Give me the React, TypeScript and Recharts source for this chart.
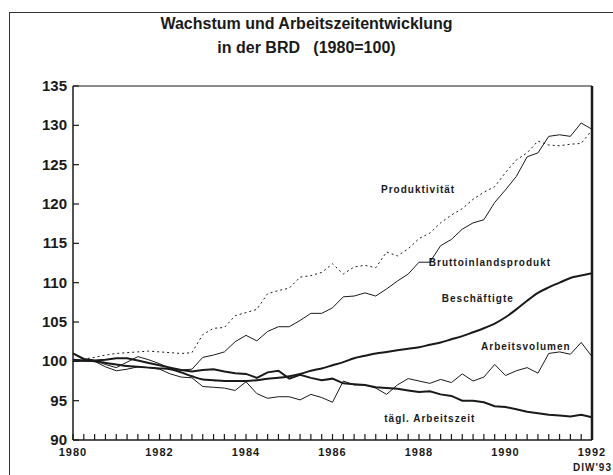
import React from "react";
import { LineChart, Line, XAxis, YAxis, ReferenceLine, ReferenceDot } from "recharts";

// quarterly time axis 1980 Q1 .. 1992 Q1
const quarters = Array.from({ length: 49 }, (_, i) => 1980 + i / 4);
const yearLabels = [1980, 1982, 1984, 1986, 1988, 1990, 1992];
const yTicks = [90, 95, 100, 105, 110, 115, 120, 125, 130, 135];

const produktivitaet = [
  100, 100.3, 100.5, 100.8, 101, 101.1, 101.2, 101.3, 101.2, 101.1, 101.0, 101.1,
  103.4, 104.2, 104.3, 105.8, 106.2, 106.6, 108.6, 109.0, 109.3, 110.7, 110.9, 111.3,
  112.4, 111.1, 112.0, 112.2, 111.9, 113.9, 113.4, 114.3, 115.6, 116.3, 117.6, 118.6,
  119.4, 120.6, 121.5, 122.2, 124.0, 125.6, 126.5, 128.0, 127.5, 127.4, 127.6, 127.7,
  129.4,
];
const bip = [
  101, 100.2, 100.1, 99.6, 99.2, 99.9, 100.6, 100.2, 99.7, 99.1, 98.9, 99.0,
  100.5, 100.8, 101.2, 102.5, 103.3, 102.6, 103.8, 104.4, 104.4, 105.2, 106.1, 106.1,
  106.8, 108.2, 108.3, 108.7, 108.3, 109.2, 110.2, 111.1, 112.6, 112.6, 114.7, 115.5,
  116.8, 117.6, 118.0, 120.2, 121.8, 123.5, 126.0, 126.5, 128.6, 128.8, 128.6, 130.3,
  129.5,
];
const beschaeftigte = [
  100.2, 100.1, 100.0, 99.8, 99.6, 99.4, 99.3, 99.2, 99.1, 99.0, 98.6, 98.1,
  97.7, 97.6, 97.5, 97.5, 97.5, 97.6, 97.8, 97.9, 98.1, 98.4, 98.8, 99.1,
  99.5, 99.9, 100.4, 100.7, 101.0, 101.2, 101.4, 101.6, 101.8, 102.1, 102.4, 102.8,
  103.2, 103.7, 104.2, 104.8, 105.6, 106.6, 107.7, 108.7, 109.4, 110.0, 110.6, 110.9,
  111.2,
];
const arbeitszeit = [
  101, 100.3, 100.1, 100.2, 100.4, 100.4, 100.1, 99.8, 99.5, 99.2, 98.9, 98.7,
  98.9, 99.0, 98.7, 98.5, 98.4, 97.9, 98.6, 98.8, 97.8, 98.3, 97.9, 97.6,
  97.8, 97.2, 97.1, 97.0, 96.7, 96.6, 96.5, 96.3, 96.1, 96.2, 95.8, 95.6,
  95.0, 95.0, 94.8, 94.3, 94.2, 93.9, 93.6, 93.4, 93.2, 93.1, 93.0, 93.2,
  92.9,
];
const arbeitsvolumen = [
  100, 100, 100, 99.3, 98.8, 99.0, 99.3, 99.2, 99.0, 98.4, 98.0, 97.9,
  96.8, 96.7, 96.6, 96.3, 97.4, 95.9, 95.3, 95.5, 95.5, 95.1, 95.8, 95.4,
  94.8, 97.5, 97.0, 97.0, 96.6, 95.8, 97.0, 97.8, 97.5, 97.2, 97.7, 97.3,
  98.4, 97.5, 98.0, 99.6, 98.2, 98.8, 99.2, 98.5, 101.0, 101.2, 100.9, 102.4,
  100.6,
];

const data = quarters.map((t, i) => ({
  t,
  produktivitaet: produktivitaet[i],
  bip: bip[i],
  beschaeftigte: beschaeftigte[i],
  arbeitszeit: arbeitszeit[i],
  arbeitsvolumen: arbeitsvolumen[i],
}));

const FONT = '"Liberation Sans", Arial, Helvetica, sans-serif';
const INK = "#1a1a1a";

// inward quarter ticks, labels every second year
const XTick = (props: any) => {
  const { x, y, payload } = props;
  const v = payload.value;
  return (
    <g>
      <line x1={x} y1={y} x2={x} y2={y - 6} stroke={INK} strokeWidth={1.2} />
      {yearLabels.includes(v) && (
        <text x={x} y={y + 16} textAnchor="middle" fontFamily={FONT} fontWeight="bold" fontSize={11} letterSpacing={1} fill={INK}>
          {v}
        </text>
      )}
    </g>
  );
};

const YTick = (props: any) => {
  const { x, y, payload } = props;
  return (
    <g>
      <line x1={x} y1={y} x2={x + 6} y2={y} stroke={INK} strokeWidth={1.2} />
      <text x={x - 6} y={y + 5} textAnchor="end" fontFamily={FONT} fontWeight="bold" fontSize={15} fill={INK}>
        {payload.value}
      </text>
    </g>
  );
};

const RTick = (props: any) => {
  const { x, y } = props;
  return <line x1={x - 5} y1={y} x2={x} y2={y} stroke={INK} strokeWidth={1.2} />;
};

const seriesLabel = (text: string) => ({
  value: text,
  position: "center" as const,
  fontFamily: FONT,
  fontWeight: "bold",
  fontSize: 10,
  letterSpacing: 1,
  fill: INK,
});

export default function App() {
  return (
    <div style={{ position: "absolute", left: 0, top: 0, width: 613, height: 475, background: "#fff", overflow: "hidden", fontFamily: FONT }}>
      <div style={{ position: "absolute", left: 9, top: 12, width: 620, height: 480, borderLeft: "1.5px solid #333", borderTop: "1.5px solid #333" }} />
      <div style={{ position: "absolute", left: 0, top: 12, width: 613, textAlign: "center", fontWeight: "bold", fontSize: 16, lineHeight: "24px", color: INK }}>
        <div>Wachstum und Arbeitszeitentwicklung</div>
        <div style={{ whiteSpace: "pre" }}>{"in der BRD   (1980=100)"}</div>
      </div>
      <div style={{ position: "absolute", left: 573, top: 462, fontWeight: "bold", fontSize: 10, letterSpacing: 1, color: INK, whiteSpace: "nowrap" }}>
        DIW'93
      </div>
      <div style={{ position: "absolute", left: 0, top: 0 }}>
        <LineChart width={613} height={475} data={data} margin={{ top: 86, right: 20, bottom: 5, left: 0 }}>
          <XAxis
            dataKey="t"
            type="number"
            domain={[1980, 1992]}
            ticks={quarters}
            interval={0}
            tickSize={0}
            tickMargin={0}
            tick={<XTick />}
            axisLine={{ stroke: INK, strokeWidth: 1.5 }}
            height={30}
          />
          <YAxis
            yAxisId="l"
            domain={[90, 135]}
            ticks={yTicks}
            interval={0}
            tickSize={0}
            tickMargin={0}
            tick={<YTick />}
            axisLine={{ stroke: INK, strokeWidth: 1.5 }}
            width={73}
          />
          <YAxis
            yAxisId="r"
            orientation="right"
            domain={[90, 135]}
            ticks={yTicks}
            interval={0}
            tickSize={0}
            tickMargin={0}
            tick={<RTick />}
            axisLine={{ stroke: INK, strokeWidth: 2.5 }}
            width={1}
          />
          <ReferenceLine yAxisId="l" y={135} stroke={INK} strokeWidth={1.2} />
          <Line yAxisId="l" dataKey="produktivitaet" type="linear" stroke={INK} strokeWidth={1} strokeDasharray="2 3" dot={false} isAnimationActive={false} />
          <Line yAxisId="l" dataKey="bip" type="linear" stroke={INK} strokeWidth={1} dot={false} isAnimationActive={false} />
          <Line yAxisId="l" dataKey="arbeitsvolumen" type="linear" stroke={INK} strokeWidth={1} dot={false} isAnimationActive={false} />
          <Line yAxisId="l" dataKey="beschaeftigte" type="monotone" stroke={INK} strokeWidth={2} dot={false} isAnimationActive={false} />
          <Line yAxisId="l" dataKey="arbeitszeit" type="linear" stroke={INK} strokeWidth={2} dot={false} isAnimationActive={false} />
          <ReferenceDot yAxisId="l" x={1987.98} y={121.8} r={0} stroke="none" label={seriesLabel("Produktivität")} />
          <ReferenceDot yAxisId="l" x={1989.64} y={112.6} r={0} stroke="none" label={seriesLabel("Bruttoinlandsprodukt")} />
          <ReferenceDot yAxisId="l" x={1989.36} y={108.05} r={0} stroke="none" label={seriesLabel("Beschäftigte")} />
          <ReferenceDot yAxisId="l" x={1990.47} y={101.95} r={0} stroke="none" label={seriesLabel("Arbeitsvolumen")} />
          <ReferenceDot yAxisId="l" x={1988.25} y={92.8} r={0} stroke="none" label={seriesLabel("tägl. Arbeitszeit")} />
        </LineChart>
      </div>
    </div>
  );
}
